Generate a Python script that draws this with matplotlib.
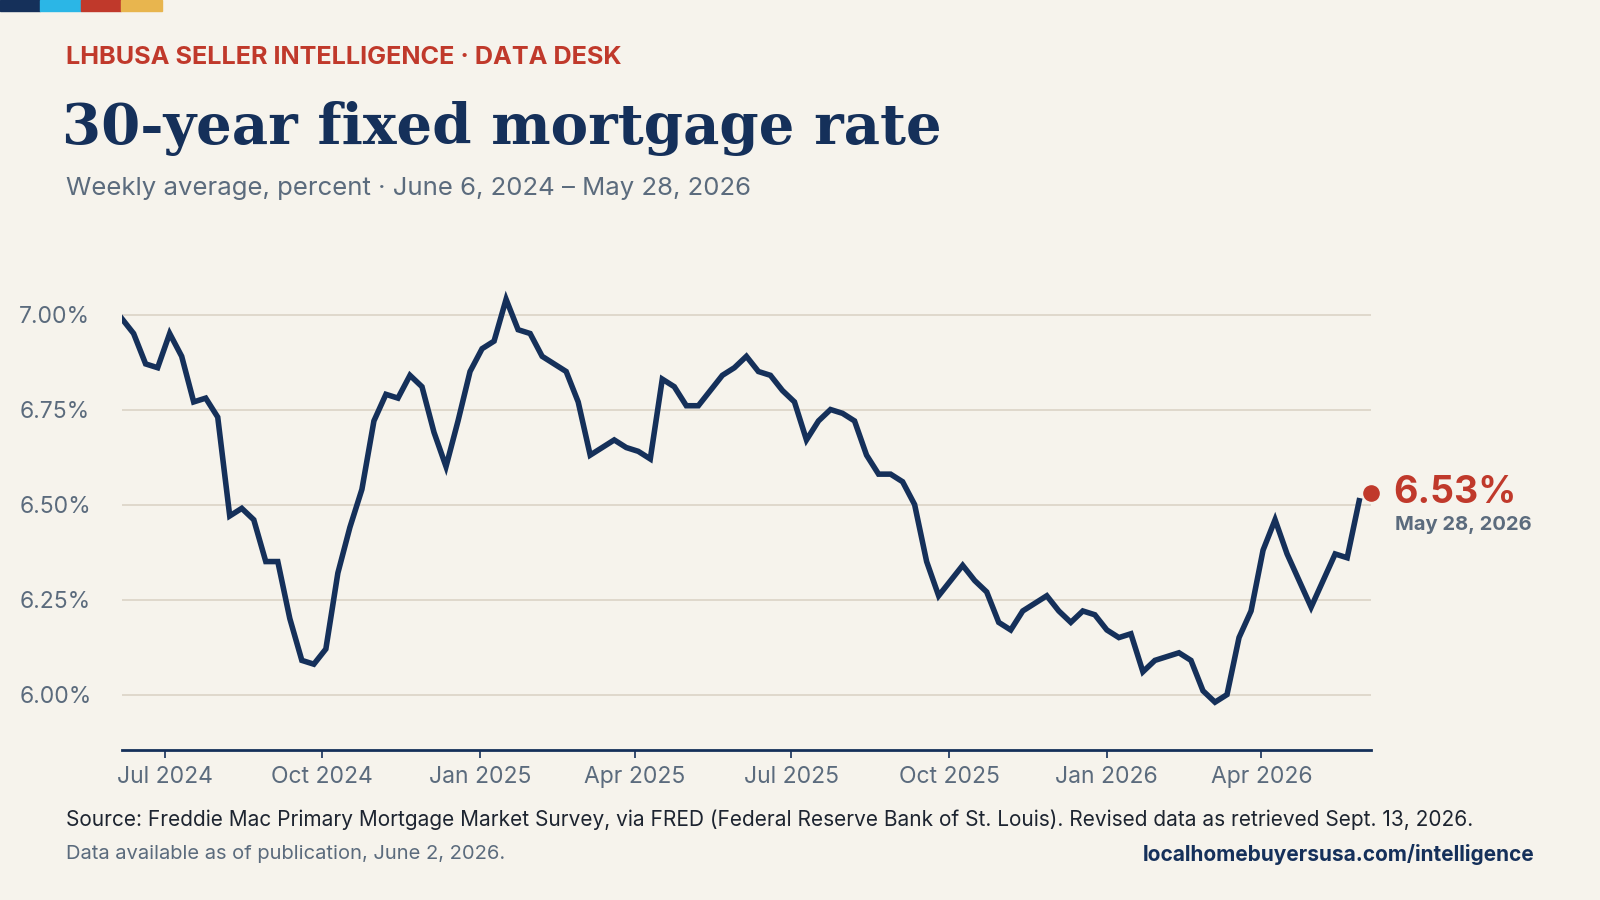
import matplotlib
matplotlib.use("Agg")
import matplotlib.pyplot as plt
import matplotlib.dates as mdates
import pandas as pd
from matplotlib.patches import Rectangle

# Weekly 30-year fixed rate, Jun 6 2024 .. May 28 2026
rates = [
    6.99, 6.95, 6.87, 6.86, 6.95, 6.89, 6.77, 6.78, 6.73, 6.47, 6.49, 6.46, 6.35, 6.35, 6.20,
    6.09, 6.08, 6.12, 6.32, 6.44, 6.54, 6.72, 6.79, 6.78, 6.84, 6.81, 6.69, 6.60, 6.72, 6.85,
    6.91, 6.93, 7.04, 6.96, 6.95, 6.89, 6.87, 6.85, 6.77, 6.63, 6.65, 6.67, 6.65, 6.64, 6.62,
    6.83, 6.81, 6.76, 6.76, 6.80, 6.84, 6.86, 6.89, 6.85, 6.84, 6.80, 6.77, 6.67, 6.72, 6.75,
    6.74, 6.72, 6.63, 6.58, 6.58, 6.56, 6.50, 6.35, 6.26, 6.30, 6.34, 6.30, 6.27, 6.19, 6.17,
    6.22, 6.24, 6.26, 6.22, 6.19, 6.22, 6.21, 6.17, 6.15, 6.16, 6.06, 6.09, 6.10, 6.11, 6.09,
    6.01, 5.98, 6.00, 6.15, 6.22, 6.38, 6.46, 6.37, 6.30, 6.23, 6.30, 6.37, 6.36, 6.51,
]
dates = pd.date_range("2024-06-06", periods=len(rates), freq="7D")
latest_rate = 6.53
latest_label = "May 28, 2026"
y_ticks = [6.00, 6.25, 6.50, 6.75, 7.00]
x_ticks = ["2024-07-01", "2024-10-01", "2025-01-01", "2025-04-01", "2025-07-01",
           "2025-10-01", "2026-01-01", "2026-04-01"]

NAVY = "#15305a"
RED = "#c0392b"
GRAY = "#5b6b7d"
BG = "#f6f3ec"
GRID = "#ddd6c9"
plt.rcParams["font.family"] = ["Inter", "DejaVu Sans"]

fig = plt.figure(figsize=(16, 9), dpi=100, facecolor=BG)

# colour strip at top left
for i, c in enumerate([NAVY, "#2bb6e6", RED, "#e8b54e"]):
    fig.patches.append(Rectangle((i * 0.0253, 0.988), 0.0253, 0.012, transform=fig.transFigure,
                                 color=c, zorder=5))

fig.text(0.041, 0.936, "LHBUSA SELLER INTELLIGENCE · DATA DESK", color=RED, fontsize=18.2,
         fontweight="bold", va="center")
fig.text(0.039, 0.857, "30-year fixed mortgage rate", color=NAVY, fontsize=40.5,
         fontweight="bold", family="DejaVu Serif", va="center")
fig.text(0.041, 0.791, "Weekly average, percent · June 6, 2024 – May 28, 2026", color=GRAY,
         fontsize=18.5, va="center")

ax = fig.add_axes([0.076, 0.167, 0.781, 0.53])
ax.set_facecolor(BG)
ax.plot(dates, rates, color=NAVY, lw=4, solid_joinstyle="miter", zorder=3)
ax.set_xlim(dates[0], dates[-1] + pd.Timedelta(days=7))
ax.set_ylim(5.855, 7.11)
ax.set_yticks(y_ticks)
ax.set_yticklabels([f"{v:.2f}%" for v in y_ticks])
ax.set_xticks(pd.to_datetime(x_ticks))
ax.xaxis.set_major_formatter(mdates.DateFormatter("%b %Y"))
ax.grid(axis="y", color=GRID, lw=1.3)
ax.set_axisbelow(True)
for s in ["top", "right", "left"]:
    ax.spines[s].set_visible(False)
ax.spines["bottom"].set_color(NAVY)
ax.spines["bottom"].set_linewidth(2)
ax.tick_params(axis="y", length=0, labelsize=16.5, labelcolor=GRAY)
ax.tick_params(axis="x", length=6, width=1.2, color=NAVY, labelsize=16.5, labelcolor=GRAY, pad=6)
for lab in ax.get_yticklabels():
    lab.set_horizontalalignment("left")
    lab.set_x(-0.078)

last = dates[-1] + pd.Timedelta(days=7)
ax.scatter([last], [latest_rate], s=120, color=RED, zorder=4, clip_on=False)
ax.annotate(f"{latest_rate:.2f}%", (last, latest_rate), xytext=(16, 0), textcoords="offset points",
            color=RED, fontsize=27, fontweight="bold", va="center", annotation_clip=False)
ax.annotate(latest_label, (last, latest_rate), xytext=(17, -23), textcoords="offset points",
            color=GRAY, fontsize=14.5, fontweight="bold", va="center", annotation_clip=False)

fig.text(0.041, 0.089, "Source: Freddie Mac Primary Mortgage Market Survey, via FRED (Federal Reserve "
         "Bank of St. Louis). Revised data as retrieved Sept. 13, 2026.", color="#1d2430",
         fontsize=15, va="center")
fig.text(0.041, 0.051, "Data available as of publication, June 2, 2026.", color=GRAY,
         fontsize=14.5, va="center")
fig.text(0.959, 0.051, "localhomebuyersusa.com/intelligence", color=NAVY, fontsize=15,
         fontweight="bold", ha="right", va="center")

fig.savefig("out.png", dpi=100, facecolor=BG)
